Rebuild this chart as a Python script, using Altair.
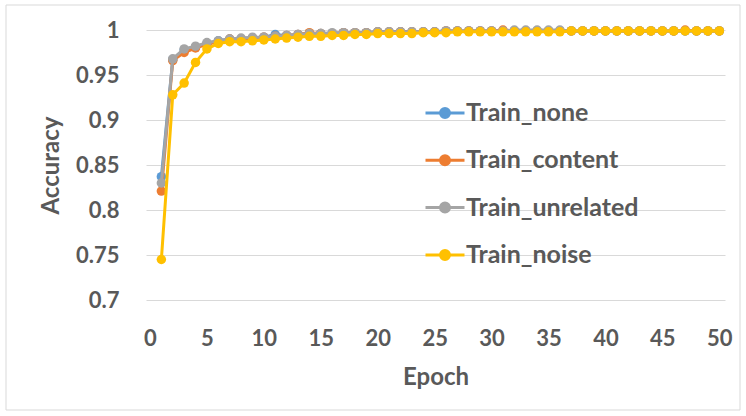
import altair as alt
import pandas as pd

# Training accuracy per epoch for four training setups
epochs = list(range(1, 51))

train_none = [
    0.837, 0.967, 0.978, 0.981, 0.985, 0.988, 0.990, 0.990, 0.991, 0.992,
    0.995, 0.994, 0.995, 0.996, 0.996, 0.996, 0.997, 0.997, 0.997, 0.998,
    0.998, 0.998, 0.998, 0.998, 0.998, 0.999, 0.999, 0.999, 0.999, 0.999,
    0.999, 0.999, 0.999, 0.999, 0.999, 0.999, 0.999, 0.999, 0.999, 0.999,
    0.999, 0.999, 0.999, 0.999, 0.999, 0.999, 0.999, 0.999, 0.999, 0.999,
]
train_content = [
    0.821, 0.966, 0.975, 0.980, 0.984, 0.987, 0.990, 0.990, 0.991, 0.992,
    0.993, 0.994, 0.995, 0.997, 0.996, 0.996, 0.997, 0.997, 0.997, 0.998,
    0.998, 0.998, 0.998, 0.998, 0.998, 0.999, 0.999, 0.999, 0.999, 0.999,
    1.000, 0.999, 0.999, 0.999, 0.999, 0.999, 0.999, 0.999, 0.999, 0.999,
    0.999, 0.999, 0.999, 0.999, 0.999, 0.999, 1.000, 0.999, 0.999, 0.999,
]
train_unrelated = [
    0.830, 0.968, 0.979, 0.982, 0.986, 0.988, 0.990, 0.991, 0.992, 0.992,
    0.993, 0.994, 0.995, 0.996, 0.996, 0.997, 0.997, 0.997, 0.997, 0.998,
    0.998, 0.998, 0.998, 0.998, 0.998, 0.999, 0.999, 0.999, 0.999, 0.999,
    0.999, 1.000, 1.000, 1.000, 1.000, 1.000, 0.999, 0.999, 0.999, 0.999,
    0.999, 0.999, 0.999, 0.999, 0.999, 0.999, 0.999, 0.999, 0.999, 0.999,
]
train_noise = [
    0.745, 0.928, 0.941, 0.964, 0.979, 0.985, 0.987, 0.987, 0.988, 0.989,
    0.990, 0.991, 0.992, 0.993, 0.993, 0.994, 0.994, 0.995, 0.995, 0.996,
    0.996, 0.996, 0.996, 0.997, 0.997, 0.997, 0.998, 0.998, 0.998, 0.998,
    0.998, 0.998, 0.998, 0.998, 0.998, 0.998, 0.999, 0.999, 0.999, 0.999,
    0.999, 0.999, 0.999, 0.999, 0.999, 0.999, 0.999, 0.999, 0.999, 0.999,
]

series_names = ["Train_none", "Train_content", "Train_unrelated", "Train_noise"]
series_colors = ["#5B9BD5", "#ED7D31", "#A5A5A5", "#FFC000"]
series_values = [train_none, train_content, train_unrelated, train_noise]

y_ticks = [0.7, 0.75, 0.8, 0.85, 0.9, 0.95, 1.0]
x_ticks = [0, 5, 10, 15, 20, 25, 30, 35, 40, 45, 50]

rows = []
for name, vals in zip(series_names, series_values):
    for e, v in zip(epochs, vals):
        rows.append({"Epoch": e, "Accuracy": v, "Series": name})
df = pd.DataFrame(rows)

FONT = "Lato"
TEXT = "#595959"
GRID = "#D9D9D9"

# legend glyph: a short line with a dot in the middle
legend_glyph = "M-1,0L1,0M0.23,0A0.23,0.23,0,1,1,-0.23,0A0.23,0.23,0,1,1,0.23,0Z"

x_enc = alt.X(
    "Epoch:Q",
    scale=alt.Scale(domain=[-0.35, 50.5], nice=False, zero=False),
    axis=alt.Axis(values=x_ticks, title="Epoch", grid=False, domain=False,
                  ticks=False, labelPadding=28, titlePadding=16),
)
y_enc = alt.Y(
    "Accuracy:Q",
    scale=alt.Scale(domain=[0.7, 1.0], nice=False, zero=False),
    axis=alt.Axis(values=y_ticks, format="~g", title="Accuracy", grid=True,
                  domain=False, ticks=False, labelPadding=27, titlePadding=12),
)
color_enc = alt.Color(
    "Series:N",
    scale=alt.Scale(domain=series_names, range=series_colors),
    legend=alt.Legend(
        title=None,
        orient="none",
        legendX=278,
        legendY=62,
        symbolType=legend_glyph,
        symbolSize=1521,
        symbolStrokeWidth=3,
        symbolOpacity=1,
        labelOffset=0,
        rowPadding=13.3,
        labelLimit=400,
    ),
)

base = alt.Chart(df).encode(x=x_enc, y=y_enc, color=color_enc)

layers = []
for name in series_names:
    sel = base.transform_filter(alt.datum.Series == name)
    layers.append(sel.mark_line(strokeWidth=3))
    layers.append(sel.mark_point(filled=True, size=90, opacity=1))

frame = alt.Chart(pd.DataFrame({"k": [0]})).mark_rect(
    fill=None, stroke=GRID, strokeWidth=1
).encode(
    x=alt.value(-140), x2=alt.value(594), y=alt.value(-25), y2=alt.value(380)
)

chart = alt.layer(frame, *layers).properties(
    width=579,
    height=270,
    autosize=alt.AutoSizeParams(type="none"),
    padding={"left": 146, "top": 30, "right": 21, "bottom": 116},
    background="white",
).configure_view(
    stroke=None
).configure_axis(
    labelFont=FONT, labelFontSize=22, labelFontWeight="bold", labelColor=TEXT,
    titleFont=FONT, titleFontSize=24, titleFontWeight="bold", titleColor=TEXT,
    gridColor=GRID, gridWidth=1,
).configure_legend(
    labelFont=FONT, labelFontSize=25, labelFontWeight="bold", labelColor=TEXT,
)

chart.save("out.html", embed_options={"renderer": "svg", "actions": False})
